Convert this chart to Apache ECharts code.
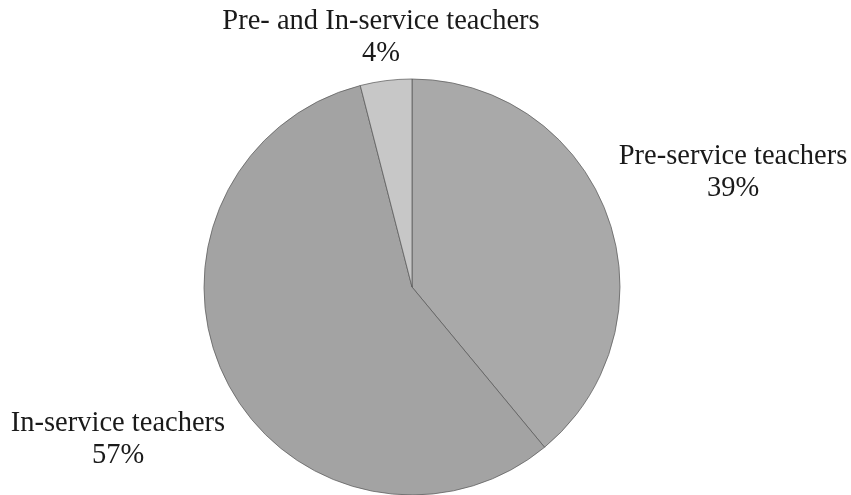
<!DOCTYPE html>
<html>
<head>
<meta charset="utf-8">
<script src="https://cdn.jsdelivr.net/npm/echarts@6/dist/echarts.min.js"></script>
<style>
html,body{margin:0;padding:0;background:#fff;}
#chart{width:851px;height:495px;}
</style>
</head>
<body>
<div id="chart"></div>
<script>
var categories = ['Pre-service teachers', 'In-service teachers', 'Pre- and In-service teachers'];
var values = [39, 57, 4];
var sliceColors = ['#a9a9a9', '#a3a3a3', '#c7c7c7'];
var labelPositions = [[733, 173], [118, 440], [381, 38]];

var chart = echarts.init(document.getElementById('chart'));
chart.setOption({
  backgroundColor: '#ffffff',
  animation: false,
  series: [{
    type: 'pie',
    center: [412, 287],
    radius: [0, 208],
    startAngle: 90,
    clockwise: true,
    avoidLabelOverlap: false,
    data: categories.map(function (c, i) {
      return { name: c, value: values[i], itemStyle: { color: sliceColors[i] } };
    }),
    itemStyle: { borderColor: '#555555', borderWidth: 0.7 },
    label: {
      show: true,
      position: 'outside',
      formatter: '{b}\n{d}%',
      fontFamily: 'Liberation Serif',
      fontSize: 28.5,
      lineHeight: 32,
      color: '#1a1a1a',
      align: 'center'
    },
    labelLine: { show: false },
    labelLayout: function (params) {
      var p = labelPositions[params.dataIndex];
      return { x: p[0], y: p[1], align: 'center', verticalAlign: 'middle' };
    },
    emphasis: { disabled: true }
  }]
});
</script>
</body>
</html>
